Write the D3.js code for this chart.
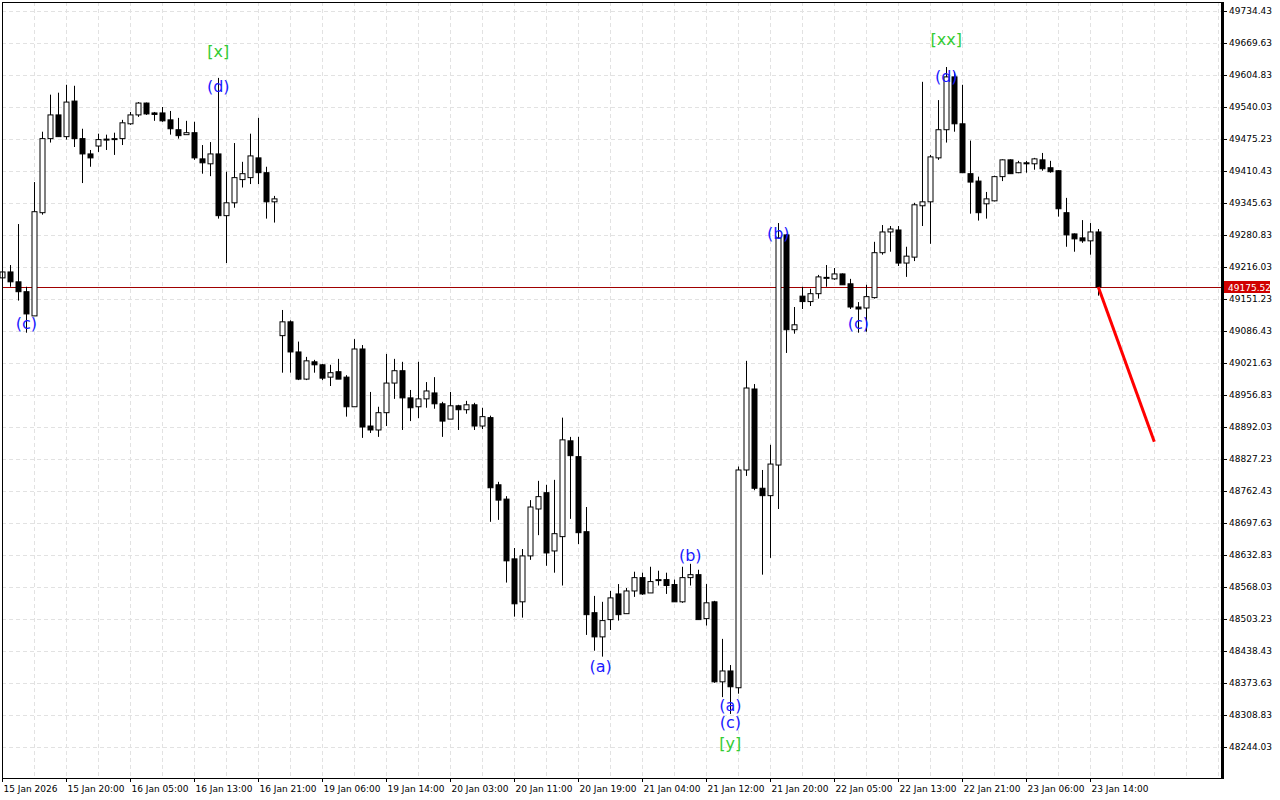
<!DOCTYPE html>
<html><head><meta charset="utf-8">
<script src="https://cdn.jsdelivr.net/npm/d3@7"></script>
<style>body{margin:0;background:#fff}svg{display:block}</style>
</head><body>
<svg id="c" width="1280" height="800"></svg>
<script>
// OHLC per H1 candle
const opens=[49194,49206,49186,49166,49117,49326,49476,49524,49480,49552,49476,49445,49461,49473,49474,49476,49506,49524,49548,49528,49528,49514,49494,49484,49488,49435,49425,49445,49320,49346,49393,49397,49437,49407,49348,
49077,49105,49044,48989,49024,49018,48993,49004,48993,48933,49050,48894,48886,48921,48981,49006,48951,48933,48949,48961,48939,48908,48935,48927,48937,48894,48911,48775,48746,48625,48538,48631,48726,48759,48641,
48670,48864,48832,48680,48516,48467,48502,48554,48514,48560,48587,48556,48581,48583,48573,48538,48587,48593,48504,48538,48376,48398,48364,48805,48969,48768,48753,48815,49281,49089,
49157,49146,49162,49194,49192,49202,49182,49135,49133,49154,49245,49287,49291,49224,49236,49340,49348,49437,49494,49601,49506,49405,49390,49344,49350,49399,49433,49407,49427,49425,49433,49417,49411,49326,49283,49275,49269,49287];
const highs=[49210,49220,49303,49176,49388,49490,49565,49569,49585,49583,49496,49453,49486,49484,49488,49514,49530,49550,49549,49530,49540,49532,49518,49512,49510,49463,49469,49599,49409,49467,49429,49486,49518,49419,49360,
49129,49108,49065,49034,49028,49020,49018,49030,48997,49070,49058,48963,48933,49040,49030,49024,48967,49024,48983,48993,48943,48963,48937,48945,48941,48931,48915,48781,48752,48647,48645,48744,48783,48775,48785,
48911,48872,48872,48730,48550,48538,48560,48574,48566,48599,48597,48609,48601,48597,48583,48609,48615,48603,48574,48540,48463,48410,48812,49026,48979,48805,48856,49305,49283,49135,
49176,49172,49200,49220,49214,49203,49192,49145,49180,49267,49301,49299,49299,49257,49346,49591,49443,49554,49621,49611,49585,49472,49399,49368,49401,49434,49434,49431,49431,49437,49447,49431,49412,49356,49284,49311,49305,49293];
const lows=[49190,49176,49148,49083,49117,49322,49468,49480,49474,49459,49386,49419,49449,49453,49443,49463,49504,49520,49524,49512,49510,49484,49476,49484,49433,49405,49400,49314,49224,49336,49377,49384,49384,49314,49306,
49002,49002,48987,48987,49002,48987,48975,48989,48913,48933,48870,48880,48872,48894,48949,48886,48904,48910,48931,48929,48872,48908,48886,48919,48886,48888,48700,48704,48577,48508,48506,48623,48673,48611,48597,
48571,48706,48655,48471,48439,48427,48481,48500,48514,48548,48552,48556,48571,48554,48538,48536,48571,48502,48490,48374,48345,48311,48352,48793,48764,48593,48627,48726,49042,49081,
49131,49137,49152,49176,49190,49180,49131,49083,49085,49152,49241,49247,49218,49196,49228,49299,49263,49433,49468,49490,49407,49324,49310,49314,49349,49390,49405,49406,49407,49413,49411,49407,49318,49257,49247,49265,49241,49158];
const closes=[49206,49186,49166,49121,49328,49476,49524,49480,49550,49476,49445,49437,49474,49475,49476,49508,49524,49548,49526,49525,49512,49496,49482,49488,49437,49427,49445,49320,49346,49397,49405,49441,49407,49348,49354,
49105,49044,48989,49026,49018,48991,49002,48989,48933,49050,48892,48886,48921,48981,49006,48951,48931,48949,48965,48939,48904,48935,48927,48937,48894,48913,48769,48744,48621,48534,48631,48730,48751,48637,48676,
48866,48834,48678,48512,48467,48500,48546,48512,48560,48587,48554,48579,48583,48571,48538,48587,48593,48502,48536,48376,48398,48366,48805,48971,48768,48753,48817,49275,49089,49099,
49146,49162,49196,49195,49202,49180,49135,49131,49156,49245,49287,49293,49224,49238,49342,49348,49439,49494,49601,49506,49407,49388,49326,49354,49399,49433,49405,49427,49426,49435,49415,49409,49334,49281,49273,49269,49287,49175.52];
const yTicks=[49734.43,49669.63,49604.83,49540.03,49475.23,49410.43,49345.63,49280.83,49216.03,49151.23,49086.43,49021.63,48956.83,48892.03,48827.23,48762.43,48697.63,48632.83,48568.03,48503.23,48438.43,48373.63,48308.83,48244.03];
const xLabels=["15 Jan 2026","15 Jan 20:00","16 Jan 05:00","16 Jan 13:00","16 Jan 21:00","19 Jan 06:00","19 Jan 14:00","20 Jan 03:00","20 Jan 11:00","20 Jan 19:00","21 Jan 04:00","21 Jan 12:00","21 Jan 20:00","22 Jan 05:00","22 Jan 13:00","22 Jan 21:00","23 Jan 06:00","23 Jan 14:00"];
const xLabelIdx=[0,8,16,24,32,40,48,56,64,72,80,88,96,104,112,120,128,136];
const lastPrice=49175.52;
const forecastIdx=[137,144];
const forecastVal=[49175.52,48862];
const waveText=["(c)","[x]","(d)","(a)","(b)","(a)","(c)","[y]","(b)","(c)","[xx]","(d)"];
const waveIdx=[3,27,27,74.8,86,91,91,91,97,107,118,118];
const waveVal=[49101,49652,49581,48408,48633,48329,48293,48252,49285,49101,49676,49601];
const waveKind=["b","g","b","b","b","b","b","g","b","b","g","b"];

const svg=d3.select("#c");
const L=2,R=1222,T=2,B=778;
const y=d3.scaleLinear().domain([49756.7,49756.7-2.025*800]).range([0,800]);
const x=d3.scaleLinear().domain([0,1]).range([2.3,10.3]);
const font="DejaVu Sans";
const g=svg.append("g");
yTicks.forEach(v=>g.append("line").attr("x1",L).attr("x2",R).attr("y1",Math.round(y(v))+.5).attr("y2",Math.round(y(v))+.5));
for(let k=0;x(k)<R;k+=4)g.append("line").attr("x1",Math.round(x(k))+.5).attr("x2",Math.round(x(k))+.5).attr("y1",T).attr("y2",B);
g.selectAll("line").attr("stroke","#e2e2e2").attr("stroke-dasharray","4,3");
svg.append("line").attr("x1",L).attr("x2",R).attr("y1",Math.round(y(lastPrice))+.5).attr("y2",Math.round(y(lastPrice))+.5).attr("stroke","#a00000").attr("stroke-width",1);
const c=svg.append("g");
opens.forEach((o,i)=>{
  const cx=Math.round(x(i))+.5,cl=closes[i];
  c.append("line").attr("x1",cx).attr("x2",cx).attr("y1",y(highs[i])).attr("y2",y(lows[i])).attr("stroke","#000");
  const top=y(Math.max(o,cl)),bot=y(Math.min(o,cl));
  const up=cl>=o;
  c.append("rect").attr("x",cx-2.5).attr("width",5).attr("y",top).attr("height",Math.max(1,bot-top))
   .attr("fill",up?"#fff":"#000").attr("stroke","#000").attr("stroke-width",1);
});
svg.append("path").attr("d",d3.line().x(d=>x(d[0])).y(d=>y(d[1]))(forecastIdx.map((k,j)=>[k,forecastVal[j]])))
 .attr("stroke","#ff0000").attr("stroke-width",3).attr("fill","none");
waveText.forEach((t,j)=>{
  svg.append("text").attr("x",x(waveIdx[j])).attr("y",y(waveVal[j])).attr("dy","0.35em").attr("text-anchor","middle")
   .attr("font-family",font).attr("font-size",16).attr("fill",waveKind[j]=="g"?"#33cc33":"#1a1aff").text(t);
});
svg.append("rect").attr("x",L+.5).attr("y",T+.5).attr("width",R-L).attr("height",B-T).attr("fill","none").attr("stroke","#000");
svg.append("line").attr("x1",R+.5).attr("x2",R+.5).attr("y1",T).attr("y2",B+1).attr("stroke","#000").attr("stroke-width",3);
const ya=svg.append("g").attr("transform",`translate(${R+1},0)`).call(d3.axisRight(y).tickValues(yTicks).tickSize(4).tickFormat(d3.format(".2f")));
ya.select(".domain").remove();
ya.selectAll("text").attr("font-family",font).attr("font-size",9).attr("fill","#000").attr("x",6);
const ly=Math.round(y(lastPrice));
svg.append("rect").attr("x",R+2).attr("y",ly-6).attr("width",46).attr("height",12).attr("fill","#d00000");
svg.append("text").attr("x",R+6).attr("y",ly+3.5).attr("font-family",font).attr("font-size",9).attr("fill","#fff").text(lastPrice.toFixed(2));
xLabelIdx.forEach((k,j)=>{
  const xx=Math.round(x(k))+.5;
  svg.append("line").attr("x1",xx).attr("x2",xx).attr("y1",B).attr("y2",B+4).attr("stroke","#000");
  svg.append("text").attr("x",xx+1).attr("y",B+14).attr("font-family",font).attr("font-size",9).attr("fill","#000").text(xLabels[j]);
});
</script></body></html>
